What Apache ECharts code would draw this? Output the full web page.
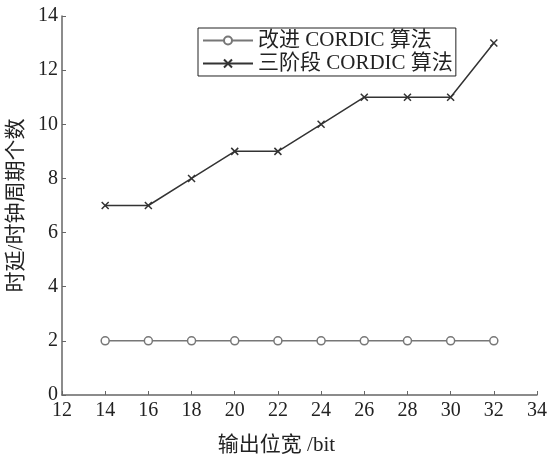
<!DOCTYPE html>
<html><head><meta charset="utf-8">
<script src="https://cdn.jsdelivr.net/npm/echarts@6/dist/echarts.min.js"></script>
<style>html,body{margin:0;padding:0;background:#fff}#c{width:547px;height:455px}</style>
</head><body><div id="c"></div>
<script>
const xValues = [14,16,18,20,22,24,26,28,30,32];
const improved = [2,2,2,2,2,2,2,2,2,2];
const threeStage = [7,7,8,9,9,10,11,11,11,13];
const seriesNames = ['改进 CORDIC 算法','三阶段 CORDIC 算法'];
const xTitle = '输出位宽 /bit';
const yTitle = '时延/时钟周期个数';
const font = '"Liberation Serif","DejaVu Serif","Noto Sans CJK SC",serif';
const chart = echarts.init(document.getElementById('c'));
const axisCommon = {
  axisLine:{show:true,lineStyle:{color:'#666',width:1.5}},
  axisTick:{show:true,inside:true,length:4,lineStyle:{color:'#666'}},
  splitLine:{show:false},
  axisLabel:{color:'#222',fontSize:20,fontFamily:font}
};
chart.setOption({
  animation:false,
  textStyle:{fontFamily:font},
  grid:{left:62,right:10,top:16,bottom:60,containLabel:false,outerBoundsMode:'none'},
  legend:{
    show:true,left:198,top:28,orient:'vertical',
    itemWidth:50,itemHeight:10,itemGap:2,
    borderColor:'#222',borderWidth:1,padding:[2,3,2,4],
    textStyle:{fontSize:21,color:'#222',fontFamily:font},
    data:seriesNames
  },
  xAxis:Object.assign({type:'value',min:12,max:34,interval:2,
    name:xTitle,nameLocation:'middle',nameGap:40,
    nameTextStyle:{fontSize:21,color:'#222',fontFamily:font,padding:[0,46,0,0]},
  },axisCommon,{axisLabel:Object.assign({},axisCommon.axisLabel,{margin:6})}),
  yAxis:Object.assign({type:'value',min:0,max:14,interval:2,
    name:yTitle,nameLocation:'middle',nameGap:34,
    nameTextStyle:{fontSize:21,color:'#222',fontFamily:font},
  },axisCommon,{axisLabel:Object.assign({},axisCommon.axisLabel,{margin:4})}),
  series:[
    {name:seriesNames[0],type:'line',data:xValues.map((x,i)=>[x,improved[i]]),
     symbol:'circle',symbolSize:8,showAllSymbol:true,
     lineStyle:{color:'#777',width:1.5},
     itemStyle:{color:'#fff',borderColor:'#777',borderWidth:1.5}},
    {name:seriesNames[1],type:'line',data:xValues.map((x,i)=>[x,threeStage[i]]),
     symbol:'path://M0,0L10,10M10,0L0,10',symbolSize:7,showAllSymbol:true,
     lineStyle:{color:'#333',width:1.5},
     itemStyle:{color:'#333',borderColor:'#333',borderWidth:1.5}}
  ]
});
</script></body></html>
